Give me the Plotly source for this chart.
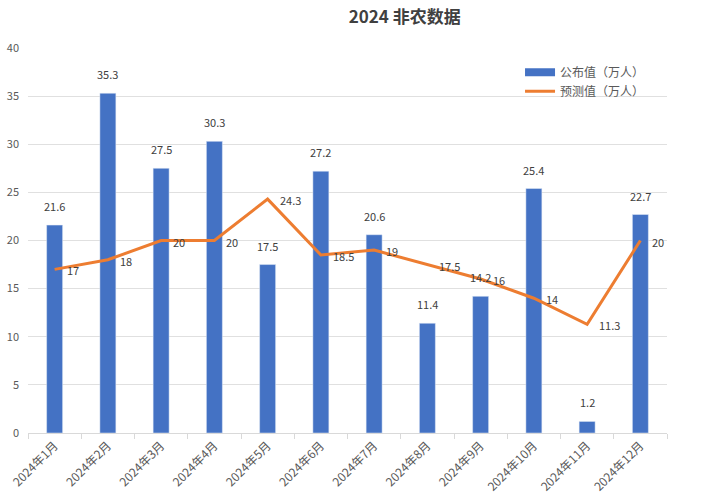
import plotly.graph_objects as go

months = ["2024年1月", "2024年2月", "2024年3月", "2024年4月", "2024年5月", "2024年6月",
          "2024年7月", "2024年8月", "2024年9月", "2024年10月", "2024年11月", "2024年12月"]
published = [21.6, 35.3, 27.5, 30.3, 17.5, 27.2, 20.6, 11.4, 14.2, 25.4, 1.2, 22.7]
forecast = [17, 18, 20, 20, 24.3, 18.5, 19, 17.5, 16, 14, 11.3, 20]

font_family = "Noto Sans CJK SC, Noto Sans, sans-serif"
text_color = "#404040"
bar_color = "#4472C4"
line_color = "#ED7D31"

fig = go.Figure()
fig.add_trace(go.Bar(
    x=months, y=published, name="公布值（万人）",
    marker_color=bar_color, width=0.3, showlegend=False,
))
# legend entry for the bars (wide rectangle like the reference)
fig.add_trace(go.Scatter(
    x=[months[0]], y=[None], name="公布值（万人）", mode="lines",
    line=dict(color=bar_color, width=8),
))
fig.add_trace(go.Scatter(
    x=months, y=forecast, name="预测值（万人）", mode="lines",
    line=dict(color=line_color, width=3),
))
for m, v in zip(months, published):
    fig.add_annotation(x=m, y=v, text=str(v), showarrow=False, xanchor="center",
                       yanchor="bottom", yshift=9,
                       font=dict(size=11, color=text_color))
for m, v in zip(months, forecast):
    fig.add_annotation(x=m, y=v, text=str(v), showarrow=False, xanchor="left",
                       yanchor="middle", xshift=10, yshift=-1,
                       font=dict(size=11, color=text_color))

fig.update_layout(
    width=710, height=501,
    margin=dict(l=28, r=43, t=48, b=68),
    paper_bgcolor="white", plot_bgcolor="white",
    font=dict(family=font_family, color="#595959", size=11),
    title=dict(text="<b>2024 非农数据</b>", x=0.57, xanchor="center", y=0.965, yanchor="middle",
               font=dict(size=17, color=text_color)),
    legend=dict(x=0.77, y=0.975, xanchor="left", yanchor="top", bgcolor="rgba(0,0,0,0)",
                font=dict(size=12, color="#595959"), traceorder="normal", itemwidth=30),
    bargap=0.7,
    showlegend=True,
)
fig.update_xaxes(
    tickangle=-45, showline=True, linecolor="#D9D9D9", linewidth=1,
    ticks="outside", tickcolor="#D9D9D9", ticklen=5, tickson="boundaries",
    showgrid=False, tickfont=dict(size=12, color="#595959"), automargin=False,
)
fig.update_yaxes(
    range=[0, 40], dtick=5, showgrid=True, gridcolor="#E0E0E0", gridwidth=1,
    zeroline=False, showline=False, tickfont=dict(size=11, color="#595959"),
    ticklabelstandoff=8, automargin=False,
)

fig.write_html("out.html")
